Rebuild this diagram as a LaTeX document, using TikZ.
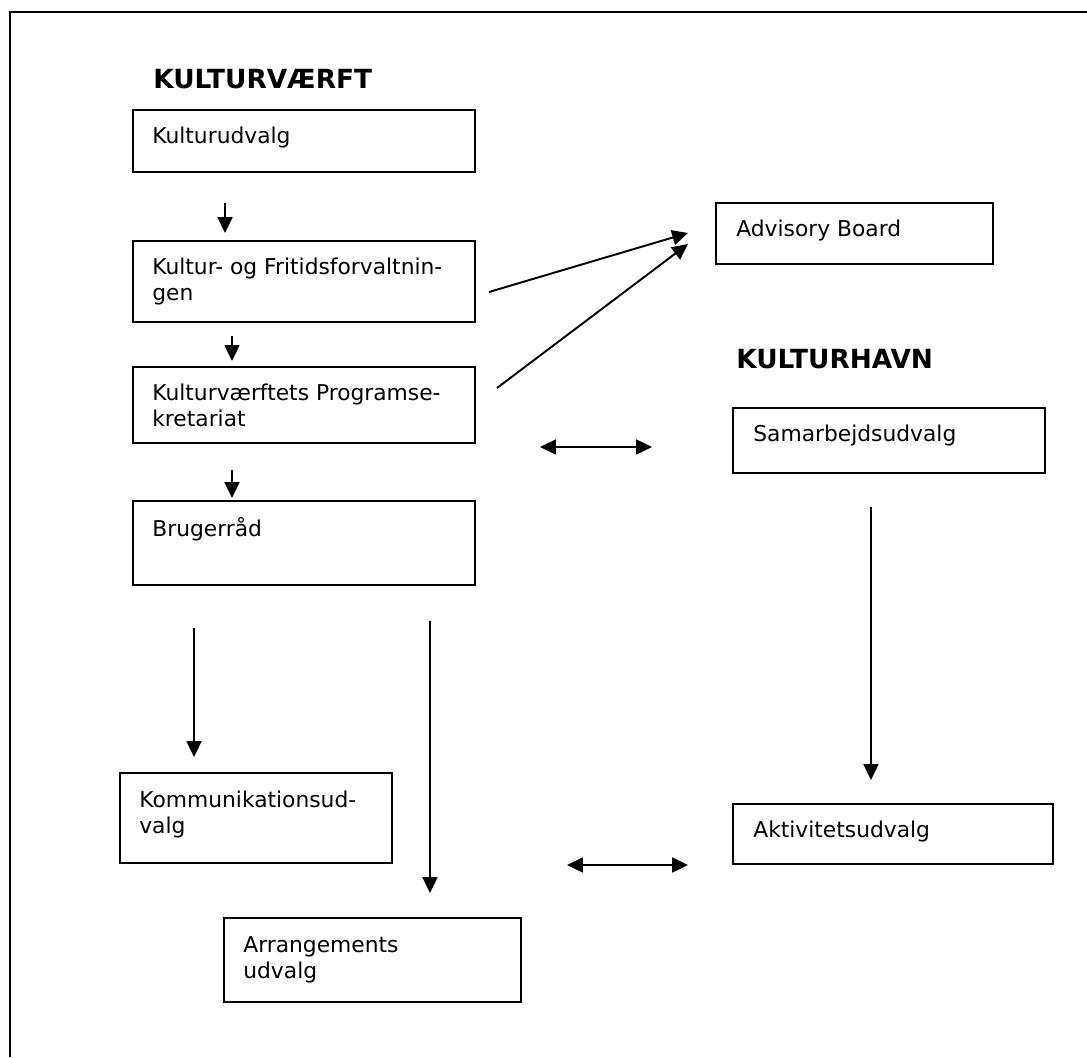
\documentclass[tikz,border=0pt]{standalone}
\usepackage{fontspec}
\setmainfont{DejaVu Sans}
\usetikzlibrary{arrows.meta,positioning}

\tikzset{
	box/.style={draw, line width=1.1pt, anchor=north west, inner sep=0pt, outer sep=0pt},
	boxtext/.style={inner sep=0pt, align=left, font=\fontsize{12.4}{14.8}\selectfont},
	heading/.style={anchor=north west, inner sep=0pt, font=\fontsize{15}{18}\selectfont\bfseries},
	link/.style={line width=1.1pt, -{Triangle[length=9pt,width=8.5pt]}},
	twoway/.style={line width=1.1pt, {Triangle[length=9pt,width=8.5pt]}-{Triangle[length=9pt,width=8.5pt]}}
}

\begin{document}
\begin{tikzpicture}[x=0.02cm, y=-0.02cm]
			%%%%% FRAME %%%%%
			\useasboundingbox (0, 0) rectangle (1087, 1057);
			\draw[line width=1.7pt] (10, 1057) -- (10, 12) -- (1087, 12);
			
			%%%%% KULTURVAERFT %%%%%
			\node[heading] (hvaerft) at (153, 69) {KULTURVÆRFT};
			
			\node[box, minimum width=6.84cm, minimum height=1.24cm] (kud) at (133, 110) {};
			\node[boxtext, below right=0.33cm and 0.38cm of kud.north west] (kudtxt) {Kulturudvalg};
			
			\node[box, minimum width=6.84cm, minimum height=1.62cm] (kfv) at (133, 241) {};
			\node[boxtext, below right=0.33cm and 0.38cm of kfv.north west] (kfvtxt) {Kultur- og Fritidsforvaltnin-\\gen};
			
			\node[box, minimum width=6.84cm, minimum height=1.52cm] (kps) at (133, 367) {};
			\node[boxtext, below right=0.33cm and 0.38cm of kps.north west] (kpstxt) {Kulturværftets Programse-\\kretariat};
			
			\node[box, minimum width=6.84cm, minimum height=1.68cm] (brr) at (133, 501) {};
			\node[boxtext, below right=0.33cm and 0.38cm of brr.north west] (brrtxt) {Brugerråd};
			
			\node[box, minimum width=5.44cm, minimum height=1.80cm] (kom) at (120, 773) {};
			\node[boxtext, below right=0.36cm and 0.38cm of kom.north west] (komtxt) {Kommunikationsud-\\valg};
			
			\node[box, minimum width=5.94cm, minimum height=1.68cm] (arr) at (224, 918) {};
			\node[boxtext, below right=0.36cm and 0.38cm of arr.north west] (arrtxt) {Arrangements\\udvalg};
			
			%%%%% KULTURHAVN %%%%%
			\node[box, minimum width=5.54cm, minimum height=1.22cm] (adv) at (716, 203) {};
			\node[boxtext, below right=0.33cm and 0.4cm of adv.north west] (advtxt) {Advisory Board};
			
			\node[heading] (hhavn) at (736, 349) {KULTURHAVN};
			
			\node[box, minimum width=6.24cm, minimum height=1.30cm] (sam) at (733, 408) {};
			\node[boxtext, below right=0.33cm and 0.4cm of sam.north west] (samtxt) {Samarbejdsudvalg};
			
			\node[box, minimum width=6.40cm, minimum height=1.20cm] (akt) at (733, 804) {};
			\node[boxtext, below right=0.33cm and 0.4cm of akt.north west] (akttxt) {Aktivitetsudvalg};
			
			%%%%% ARROWS %%%%%
			\coordinate (a1s) at (225, 203);
			\coordinate (a1e) at (225, 233);
			\coordinate (a2s) at (232, 336);
			\coordinate (a2e) at (232, 361);
			\coordinate (a3s) at (232, 470);
			\coordinate (a3e) at (232, 498);
			\coordinate (a4s) at (194, 628);
			\coordinate (a4e) at (194, 757);
			\coordinate (a5s) at (430, 621);
			\coordinate (a5e) at (430, 893);
			\coordinate (a6s) at (489, 292);
			\coordinate (a6e) at (688, 233);
			\coordinate (a7s) at (497, 388);
			\coordinate (a7e) at (688, 244);
			\coordinate (a8s) at (540, 447);
			\coordinate (a8e) at (652, 447);
			\coordinate (a9s) at (871, 507);
			\coordinate (a9e) at (871, 780);
			\coordinate (a10s) at (567, 865);
			\coordinate (a10e) at (688, 865);
			
			\draw[link] (a1s) -- (a1e);
			\draw[link] (a2s) -- (a2e);
			\draw[link] (a3s) -- (a3e);
			\draw[link] (a4s) -- (a4e);
			\draw[link] (a5s) -- (a5e);
			\draw[link] (a6s) -- (a6e);
			\draw[link] (a7s) -- (a7e);
			\draw[twoway] (a8s) -- (a8e);
			\draw[link] (a9s) -- (a9e);
			\draw[twoway] (a10s) -- (a10e);
\end{tikzpicture}
\end{document}
